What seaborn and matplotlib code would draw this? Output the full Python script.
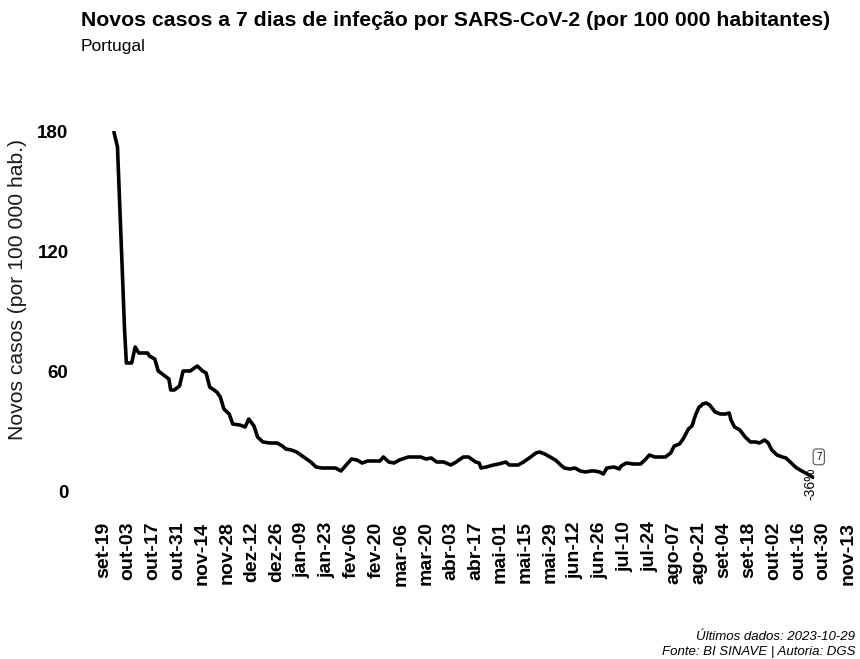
import matplotlib
matplotlib.use("Agg")
import matplotlib.pyplot as plt
import seaborn as sns
import pandas as pd

# valores (casos a 7 dias por 100 000 hab.)
datas = [
    "2022-09-25", "2022-09-27", "2022-10-01", "2022-10-02", "2022-10-05", "2022-10-07",
    "2022-10-09", "2022-10-12", "2022-10-14", "2022-10-15", "2022-10-18", "2022-10-20",
    "2022-10-23", "2022-10-26", "2022-10-27", "2022-10-29", "2022-11-01", "2022-11-03",
    "2022-11-07", "2022-11-11", "2022-11-14", "2022-11-16", "2022-11-18", "2022-11-22",
    "2022-11-24", "2022-11-26", "2022-11-29", "2022-12-01", "2022-12-05", "2022-12-08",
    "2022-12-10", "2022-12-13", "2022-12-15", "2022-12-18", "2022-12-22", "2022-12-26",
    "2022-12-29", "2022-12-31", "2023-01-03", "2023-01-06", "2023-01-10", "2023-01-14",
    "2023-01-17", "2023-01-20", "2023-01-25", "2023-01-28", "2023-01-31", "2023-02-02",
    "2023-02-06", "2023-02-09", "2023-02-12", "2023-02-15", "2023-02-19", "2023-02-22",
    "2023-02-24", "2023-02-27", "2023-03-02", "2023-03-05", "2023-03-10", "2023-03-17",
    "2023-03-20", "2023-03-23", "2023-03-26", "2023-03-30", "2023-04-03", "2023-04-06",
    "2023-04-10", "2023-04-13", "2023-04-17", "2023-04-19", "2023-04-20", "2023-04-23",
    "2023-04-27", "2023-04-30", "2023-05-04", "2023-05-06", "2023-05-11", "2023-05-14",
    "2023-05-18", "2023-05-21", "2023-05-23", "2023-05-26", "2023-05-29", "2023-06-01",
    "2023-06-04", "2023-06-06", "2023-06-09", "2023-06-12", "2023-06-15", "2023-06-18",
    "2023-06-21", "2023-06-23", "2023-06-26", "2023-06-28", "2023-06-30", "2023-07-04",
    "2023-07-07", "2023-07-08", "2023-07-11", "2023-07-15", "2023-07-19", "2023-07-22",
    "2023-07-24", "2023-07-27", "2023-08-02", "2023-08-05", "2023-08-07", "2023-08-10",
    "2023-08-12", "2023-08-15", "2023-08-17", "2023-08-19", "2023-08-21", "2023-08-22",
    "2023-08-23", "2023-08-25", "2023-08-27", "2023-08-30", "2023-09-02", "2023-09-05",
    "2023-09-07", "2023-09-08", "2023-09-10", "2023-09-13", "2023-09-16", "2023-09-19",
    "2023-09-22", "2023-09-24", "2023-09-27", "2023-09-29", "2023-10-01", "2023-10-04",
    "2023-10-07", "2023-10-09", "2023-10-12", "2023-10-15", "2023-10-18", "2023-10-21",
    "2023-10-24",
]
casos = [
    179.5, 172, 80.5, 64, 64, 72,
    69, 69, 69, 67.5, 66, 60,
    58, 56, 50.5, 50.5, 52.5, 60,
    60, 62.5, 60, 59, 52, 49.5,
    47, 41, 38.5, 33.5, 33, 32,
    36, 32.5, 27, 24.5, 24, 24,
    22.5, 21, 20.5, 19.5, 17, 14.5,
    12, 11.5, 11.5, 11.5, 10, 12,
    16, 15.5, 14, 15, 15, 15,
    17, 14.5, 14, 15.5, 17, 17,
    16, 16.5, 14.5, 14.5, 13, 14.5,
    17, 17, 14.5, 14, 11.5, 12,
    13, 13.5, 14.5, 13, 13, 14.5,
    17, 19, 19.5, 18.5, 17, 15.5,
    13, 11.5, 11, 11.5, 10, 9.5,
    10, 10, 9.5, 8.5, 11.5, 12,
    11, 12.5, 14, 13.5, 13.5, 16,
    18, 17, 17, 19, 22.5, 23.5,
    26, 31, 32.5, 38, 42, 42.5,
    43.5, 44, 43, 39.5, 38.5, 38.5,
    39, 35.5, 32, 30.5, 27, 24.5,
    24.5, 24, 25.5, 24, 20.5, 18,
    17, 16.5, 14, 11.5, 10, 8.5,
    7,
]
variacao = -36

tick_labels = [
    "set-19", "out-03", "out-17", "out-31", "nov-14", "nov-28", "dez-12", "dez-26",
    "jan-09", "jan-23", "fev-06", "fev-20", "mar-06", "mar-20", "abr-03", "abr-17",
    "mai-01", "mai-15", "mai-29", "jun-12", "jun-26", "jul-10", "jul-24", "ago-07",
    "ago-21", "set-04", "set-18", "out-02", "out-16", "out-30", "nov-13",
]
y_ticks = [0, 60, 120, 180]

sns.set_style("white")
plt.rcParams['font.family'] = ['Liberation Sans', 'DejaVu Sans']
plt.rcParams['text.color'] = 'black'
plt.rcParams['xtick.color'] = 'black'
plt.rcParams['ytick.color'] = 'black'

df = pd.DataFrame({"data": pd.to_datetime(datas), "casos": casos})
tick_pos = pd.date_range("2022-09-19", periods=len(tick_labels), freq="14D")

W, H = 860, 659
fig = plt.figure(figsize=(W / 100, H / 100), dpi=100)
ax = fig.add_axes([103.3 / W, (H - 491) / H, (848 - 103.3) / W, 360 / H])

sns.lineplot(data=df, x="data", y="casos", color="black", linewidth=2.6, ax=ax)

ax.set_xlim(tick_pos[0], tick_pos[-1])
ax.set_ylim(0, 180)
ax.set_xticks(tick_pos)
ax.set_xticklabels(tick_labels, rotation=90, fontsize=14, fontweight='bold',
                   va='top', ha='center', color='black')
ax.set_yticks(y_ticks)
ax.set_yticklabels([str(v) for v in y_ticks], fontsize=13.5, fontweight='bold',
                   color='black')
ax.tick_params(axis='x', length=0, pad=22)
ax.tick_params(axis='y', length=0, pad=25)
ax.set_xlabel("")
ax.set_ylabel("")
sns.despine(ax=ax, left=True, bottom=True)
ax.grid(False)

# anotações do último ponto
ultimo = df.iloc[-1]
ax.annotate(f"{ultimo['casos']:.0f}", xy=(ultimo["data"], ultimo["casos"]),
            xytext=(4.5, 14.5), textcoords="offset points", ha='center', va='center',
            fontsize=7, bbox=dict(boxstyle="round,pad=0.3", fc="white", ec="#555555", lw=0.8))
ax.annotate(f"{variacao}%", xy=(ultimo["data"], ultimo["casos"]),
            xytext=(-1.5, 7), textcoords="offset points", ha='center', va='top',
            rotation=90, fontsize=10, annotation_clip=False)

fig.text(18 / W, 1 - 289 / H, "Novos casos (por 100 000 hab.)", rotation=90,
         ha='center', va='center', fontsize=15.2, color="#1a1a1a")
fig.text(81 / W, 1 - 20 / H, "Novos casos a 7 dias de infeção por SARS-CoV-2 (por 100 000 habitantes)",
         ha='left', va='center', fontsize=15.3, fontweight='bold')
fig.text(81 / W, 1 - 46 / H, "Portugal", ha='left', va='center', fontsize=12.6)
fig.text(855 / W, 1 - 637 / H, "Últimos dados: 2023-10-29", ha='right', va='center',
         fontsize=9.5, style='italic')
fig.text(855 / W, 1 - 652 / H, "Fonte: BI SINAVE | Autoria: DGS", ha='right', va='center',
         fontsize=9.5, style='italic')

fig.savefig("out.png", dpi=100)
